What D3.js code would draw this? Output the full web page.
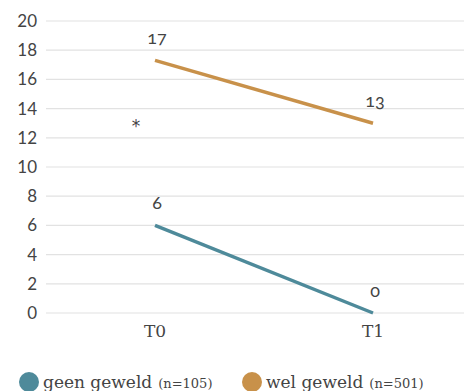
<!DOCTYPE html>
<html>
<head>
<meta charset="utf-8">
<script src="https://cdn.jsdelivr.net/npm/d3@7"></script>
<style>
  body { margin: 0; background: #fff; }
  svg { display: block; }
  text { font-variant-numeric: oldstyle-nums; }
  text.tick { font-variant-numeric: lining-nums; }
</style>
</head>
<body>
<div class="wrapper"></div>
<script>
var moments = ["T0", "T1"];
var geenGeweld = [6, 0];
var welGeweld = [17.3, 13];
var geenLabels = ["6", "0"];
var welLabels = ["17", "13"];
var yTicks = [0, 2, 4, 6, 8, 10, 12, 14, 16, 18, 20];
var seriesNames = ["geen geweld", "wel geweld"];
var seriesN = ["(n=105)", "(n=501)"];

var width = 464, height = 391;
var colors = ["#4e8a9a", "#c8914a"];

var svg = d3.select(".wrapper").append("svg")
  .attr("width", width)
  .attr("height", height);

var x = d3.scalePoint().domain(moments).range([155, 373]);
var y = d3.scaleLinear().domain([0, 20]).range([313, 21]);

// grid
svg.append("g")
  .selectAll("line")
  .data(yTicks)
  .enter().append("line")
    .attr("x1", 46)
    .attr("x2", width)
    .attr("y1", function(d) { return y(d); })
    .attr("y2", function(d) { return y(d); })
    .attr("stroke", "#e2e2e2")
    .attr("stroke-width", 1.2);

svg.append("g")
  .selectAll("text")
  .data(yTicks)
  .enter().append("text")
    .attr("class", "tick")
    .attr("x", 37)
    .attr("y", function(d) { return y(d); })
    .attr("dy", "0.35em")
    .attr("text-anchor", "end")
    .attr("font-family", "Lato, sans-serif")
    .attr("font-size", 17)
    .attr("fill", "#444")
    .text(function(d) { return d; });

// x labels
svg.append("g")
  .selectAll("text")
  .data(moments)
  .enter().append("text")
    .attr("x", function(d) { return x(d); })
    .attr("y", 337)
    .attr("text-anchor", "middle")
    .attr("font-family", "DejaVu Serif, serif")
    .attr("font-size", 17)
    .attr("fill", "#444")
    .text(function(d) { return d; });

var series = [
  { values: geenGeweld, labels: geenLabels, color: colors[0] },
  { values: welGeweld, labels: welLabels, color: colors[1] }
];

var line = d3.line()
  .x(function(d, i) { return x(moments[i]); })
  .y(function(d) { return y(d); });

series.forEach(function(s) {
  svg.append("path")
    .datum(s.values)
    .attr("d", line)
    .attr("fill", "none")
    .attr("stroke", s.color)
    .attr("stroke-width", 3.5);

  svg.append("g")
    .selectAll("text")
    .data(s.values)
    .enter().append("text")
      .attr("x", function(d, i) { return x(moments[i]) + 2; })
      .attr("y", function(d) { return y(d) - 16; })
      .attr("text-anchor", "middle")
      .attr("font-family", "Lato, sans-serif")
      .attr("font-size", 18)
      .attr("fill", "#444")
      .text(function(d, i) { return s.labels[i]; });
});

// significance mark
svg.append("text")
  .attr("x", x("T0") - 19)
  .attr("y", y(13) + 9)
  .attr("text-anchor", "middle")
  .attr("font-family", "DejaVu Sans, sans-serif")
  .attr("font-size", 17)
  .attr("fill", "#444")
  .text("*");

// legend
var legendX = [29, 252];
var legend = svg.append("g")
  .selectAll("g")
  .data(seriesNames)
  .enter().append("g")
    .attr("transform", function(d, i) { return "translate(" + legendX[i] + ",382)"; });

legend.append("circle")
  .attr("r", 10)
  .attr("fill", function(d, i) { return colors[i]; });

var lt = legend.append("text")
  .attr("x", 14)
  .attr("y", 6)
  .attr("font-family", "DejaVu Serif, serif")
  .attr("fill", "#444");
lt.append("tspan")
  .attr("font-size", 17)
  .text(function(d) { return d; });
lt.append("tspan")
  .attr("font-size", 13)
  .attr("dx", 6)
  .text(function(d, i) { return seriesN[i]; });
</script>
</body>
</html>
